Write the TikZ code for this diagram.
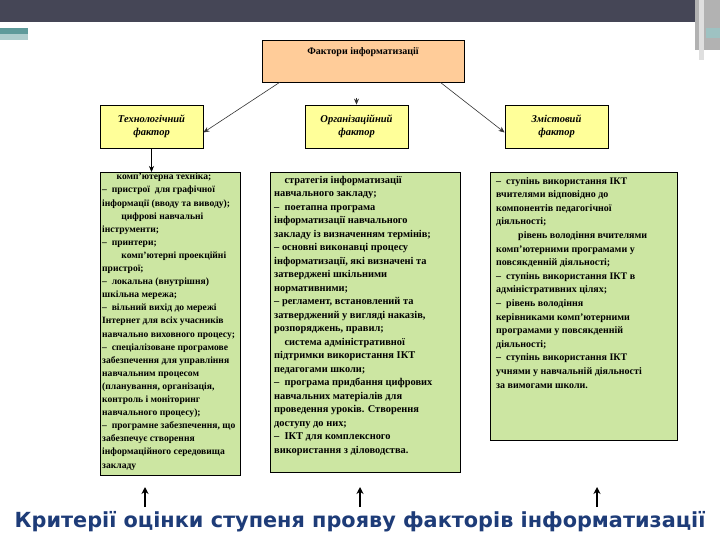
\documentclass[tikz,border=0pt]{standalone}
\usepackage{fontspec}
\setmainfont{Liberation Serif}
\newfontfamily\titlefont{DejaVu Sans}
\usetikzlibrary{arrows.meta}
\definecolor{band}{HTML}{454656}
\definecolor{teal1}{HTML}{5E9A9A}
\definecolor{peach}{HTML}{FFCC99}
\definecolor{yel}{HTML}{FFFF99}
\definecolor{grn}{HTML}{CCE6A2}
\definecolor{ttl}{HTML}{1E3C78}
\tikzset{
 fbox/.style={draw=black,line width=0.8pt,inner sep=0pt},
 txt/.style={font=\bfseries\fontsize{9.6}{13.1}\selectfont,align=left,anchor=north west,inner sep=0pt},
 ital/.style={font=\bfseries\itshape\fontsize{10.5}{13}\selectfont,align=center},
 arr/.style={-{Stealth[length=6pt,width=5pt]},line width=0.6pt,gray!40!black},
 uparr/.style={-{Stealth[length=7pt,width=7pt]},line width=1.5pt}
}
\begin{document}
\begin{tikzpicture}[x=1pt,y=-1pt]
\useasboundingbox (0,0) rectangle (720,540);
\fill[white] (0,0) rectangle (720,540);
\fill[band] (0,0) rectangle (695,22);
\fill[teal1] (0,28) rectangle (28,34);
\fill[teal1!50] (0,34) rectangle (28,40);
\fill[gray!60] (695,0) rectangle (720,50);
\fill[gray!25] (699,0) rectangle (704,60);
\fill[teal1!60] (706,28) rectangle (720,38);
% top box
\node[fbox,fill=peach,minimum width=202pt,minimum height=42pt] (top) at (363,61) {};
\node[font=\bfseries\fontsize{10}{12}\selectfont] (toptxt) at (363,52) {Фактори інформатизації};
% yellow boxes
\node[fbox,fill=yel,minimum width=103pt,minimum height=43pt,ital] (f1) at (151.5,126.5) {Технологічний\\фактор};
\node[fbox,fill=yel,minimum width=103pt,minimum height=43pt,ital] (f2) at (356.5,126.5) {Організаційний\\фактор};
\node[fbox,fill=yel,minimum width=103pt,minimum height=43pt,ital] (f3) at (556.5,126.5) {Змістовий\\фактор};
\coordinate (c2) at (356.5,98);
\draw[arr] ([xshift=18pt]top.south west) -- ([yshift=-6pt]f1.east);
\draw[arr] (c2) -- (f2.north);
\draw[arr] ([xshift=-24pt]top.south east) -- ([yshift=-6pt]f3.west);
% green boxes
\node[fbox,fill=grn,minimum width=140pt,minimum height=303pt,anchor=north west] (g1) at (100,172) {};
\node[fbox,fill=grn,minimum width=190pt,minimum height=300pt,anchor=north west] (g2) at (270,172) {};
\node[fbox,fill=grn,minimum width=187pt,minimum height=268pt,anchor=north west] (g3) at (490,172) {};
\draw[arr,black] (f1.south) -- (f1.south |- g1.north);
\node[txt] (t1) at (102,173) {\hspace{1.5em}комп’ютерна техніка;\\
–\ \ пристрої\ \ для графічної\\
інформації (вводу та виводу);\\
\hspace{2em}цифрові навчальні\\
інструменти;\\
–\ \ принтери;\\
\hspace{2em}комп’ютерні проекційні\\
пристрої;\\
–\ \ локальна (внутрішня)\\
шкільна мережа;\\
–\ \ вільний вихід до мережі\\
Інтернет для всіх учасників\\
навчально\ виховного процесу;\\
–\ \ спеціалізоване програмове\\
забезпечення для управління\\
навчальним процесом\\
(планування, організація,\\
контроль і моніторинг\\
навчального процесу);\\
–\ \ програмне забезпечення, що\\
забезпечує створення\\
інформаційного середовища\\
закладу};
\node[txt,font=\bfseries\fontsize{10.4}{13.5}\selectfont] (t2) at (274,176) {\hspace{1em}стратегія інформатизації\\
навчального закладу;\\
–\ \ поетапна програма\\
інформатизації навчального\\
закладу із визначенням термінів;\\
– основні виконавці процесу\\
інформатизації, які визначені та\\
затверджені шкільними\\
нормативними;\\
– регламент, встановлений та\\
затверджений у вигляді наказів,\\
розпоряджень, правил;\\
\hspace{1em}система адміністративної\\
підтримки використання ІКТ\\
педагогами школи;\\
–\ \ програма придбання цифрових\\
навчальних матеріалів для\\
проведення уроків. Створення\\
доступу до них;\\
–\ \ ІКТ для комплексного\\
використання з діловодства.};
\node[txt,font=\bfseries\fontsize{10}{13.6}\selectfont] (t3) at (496,177) {–\ \ ступінь використання ІКТ\\
вчителями відповідно до\\
компонентів педагогічної\\
діяльності;\\
\hspace{2.2em}рівень володіння вчителями\\
комп’ютерними програмами у\\
повсякденній діяльності;\\
–\ \ ступінь використання ІКТ в\\
адміністративних цілях;\\
–\ \ рівень володіння\\
керівниками комп’ютерними\\
програмами у повсякденній\\
діяльності;\\
–\ \ ступінь використання ІКТ\\
учнями у навчальній діяльності\\
за вимогами школи.};
% bottom
\coordinate (a1s) at (145,507); \coordinate (a1e) at (145,487);
\coordinate (a2s) at (360,507); \coordinate (a2e) at (360,487);
\coordinate (a3s) at (597,507); \coordinate (a3e) at (597,487);
\draw[uparr] (a1s) -- (a1e);
\draw[uparr] (a2s) -- (a2e);
\draw[uparr] (a3s) -- (a3e);
\node[font=\titlefont\bfseries\fontsize{20.8}{24}\selectfont,text=ttl,draw=none] (title) at (360,522) {Критерії оцінки ступеня прояву факторів інформатизації};
\end{tikzpicture}
\end{document}
